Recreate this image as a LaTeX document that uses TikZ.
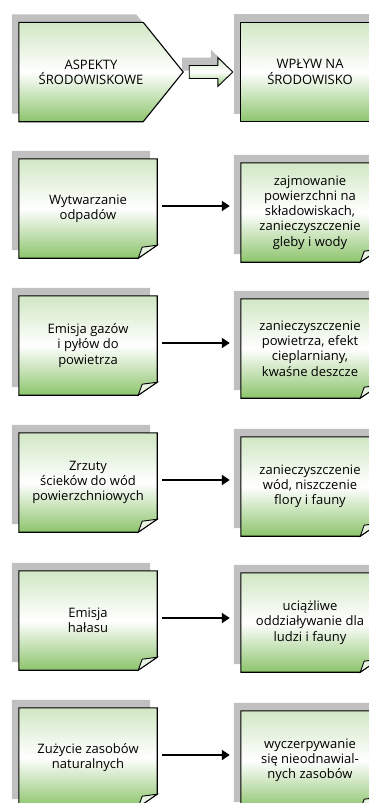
\documentclass[tikz,border=0pt]{standalone}
\usepackage{fontspec}
\setmainfont{Open Sans}
\usetikzlibrary{arrows.meta, backgrounds, calc}
\definecolor{zielen}{RGB}{140,196,108}
\definecolor{cien}{RGB}{192,192,192}

% tlo kartki z zagietym rogiem (cien, cieniowanie, rog)
\newcommand{\tlokartki}[1]{%
  \path[ramka] (#1.north west) -- (#1.north east) -- ([yshift=13pt]#1.south east)
    -- ([xshift=-19pt]#1.south east) -- (#1.south west) -- cycle;
  \filldraw[rog] ([xshift=-19pt]#1.south east) -- ([shift={(-15pt,11pt)}]#1.south east)
    .. controls ([shift={(-7pt,12pt)}]#1.south east) .. ([yshift=13pt]#1.south east) -- cycle;
}

\begin{document}
\begin{tikzpicture}[
    x=1pt, y=-1pt,
    kartka/.style={inner sep=0pt, minimum width=138pt, minimum height=99pt, align=center, text=black, font=\fontsize{13}{15.2}\selectfont},
    ramka/.style={draw=black, line width=1.1pt, top color=zielen!40, bottom color=zielen, middle color=white, preaction={fill=cien, transform canvas={shift={(-7pt,8pt)}}}},
    rog/.style={draw=black, line width=0.9pt, fill=zielen!20},
    strzalka/.style={-{Triangle[length=8pt,width=10pt]}, line width=2.8pt, shorten <=5pt, shorten >=11pt}
]
\useasboundingbox (0,0) rectangle (368,803);

% Naglowki
\node [kartka, minimum width=144pt] (aspekty) at (91,72) {ASPEKTY\\ŚRODOWISKOWE};
\node [kartka] (wplyw) at (310,72) {WPŁYW NA\\ŚRODOWISKO};

% Aspekty srodowiskowe
\node [kartka] (odpady) at (88,208.5) {Wytwarzanie\\odpadów};
\node [kartka] (gazy) at (88,345.5) {Emisja gazów\\i pyłów do\\powietrza};
\node [kartka] (scieki) at (88,482.5) {Zrzuty\\ścieków do wód\\powierzchniowych};
\node [kartka] (halas) at (88,620.5) {Emisja\\hałasu};
\node [kartka] (zasoby) at (88,757.5) {Zużycie zasobów\\naturalnych};

% Wplyw na srodowisko
\node [kartka] (skladowiska) at (310,212.5) {zajmowanie\\powierzchni na\\składowiskach,\\zanieczyszczenie\\gleby i wody};
\node [kartka] (powietrze) at (310,348.5) {zanieczyszczenie\\powietrza, efekt\\cieplarniany,\\kwaśne deszcze};
\node [kartka] (wody) at (310,486.5) {zanieczyszczenie\\wód, niszczenie\\flory i fauny};
\node [kartka] (uciazliwosc) at (310,622.5) {uciążliwe\\oddziaływanie dla\\ludzi i fauny};
\node [kartka] (wyczerpanie) at (310,760.5) {wyczerpywanie\\się nieodnawial-\\nych zasobów};

\coordinate (s0) at ([xshift=26pt]aspekty.east);
\coordinate (s1) at ([xshift=-8pt]wplyw.west);

\begin{scope}[on background layer]
  % pusta strzalka miedzy naglowkami
  \path[ramka, line width=0.9pt] ([yshift=6.5pt]s0) -- ([shift={(-15pt,6.5pt)}]s1) -- ([shift={(-15pt,14.5pt)}]s1)
    -- (s1) -- ([shift={(-15pt,-14.5pt)}]s1) -- ([shift={(-15pt,-6.5pt)}]s1) -- ([yshift=-6.5pt]s0) -- cycle;
  \path[ramka] (aspekty.north west) -- ([xshift=-20pt]aspekty.north east) -- ([xshift=20pt]aspekty.east)
    -- ([xshift=-20pt]aspekty.south east) -- (aspekty.south west) -- cycle;
  \path[ramka] (wplyw.north west) rectangle (wplyw.south east);
  \tlokartki{odpady}
  \tlokartki{gazy}
  \tlokartki{scieki}
  \tlokartki{halas}
  \tlokartki{zasoby}
  \tlokartki{skladowiska}
  \tlokartki{powietrze}
  \tlokartki{wody}
  \tlokartki{uciazliwosc}
  \tlokartki{wyczerpanie}
\end{scope}

% Strzalki
\draw [strzalka] ([yshift=2.5pt]odpady.east) -- ([yshift=2.5pt]odpady.east -| skladowiska.west);
\draw [strzalka] ([yshift=2.5pt]gazy.east) -- ([yshift=2.5pt]gazy.east -| powietrze.west);
\draw [strzalka] ([yshift=2.5pt]scieki.east) -- ([yshift=2.5pt]scieki.east -| wody.west);
\draw [strzalka] ([yshift=2.5pt]halas.east) -- ([yshift=2.5pt]halas.east -| uciazliwosc.west);
\draw [strzalka] ([yshift=2.5pt]zasoby.east) -- ([yshift=2.5pt]zasoby.east -| wyczerpanie.west);

\end{tikzpicture}
\end{document}
